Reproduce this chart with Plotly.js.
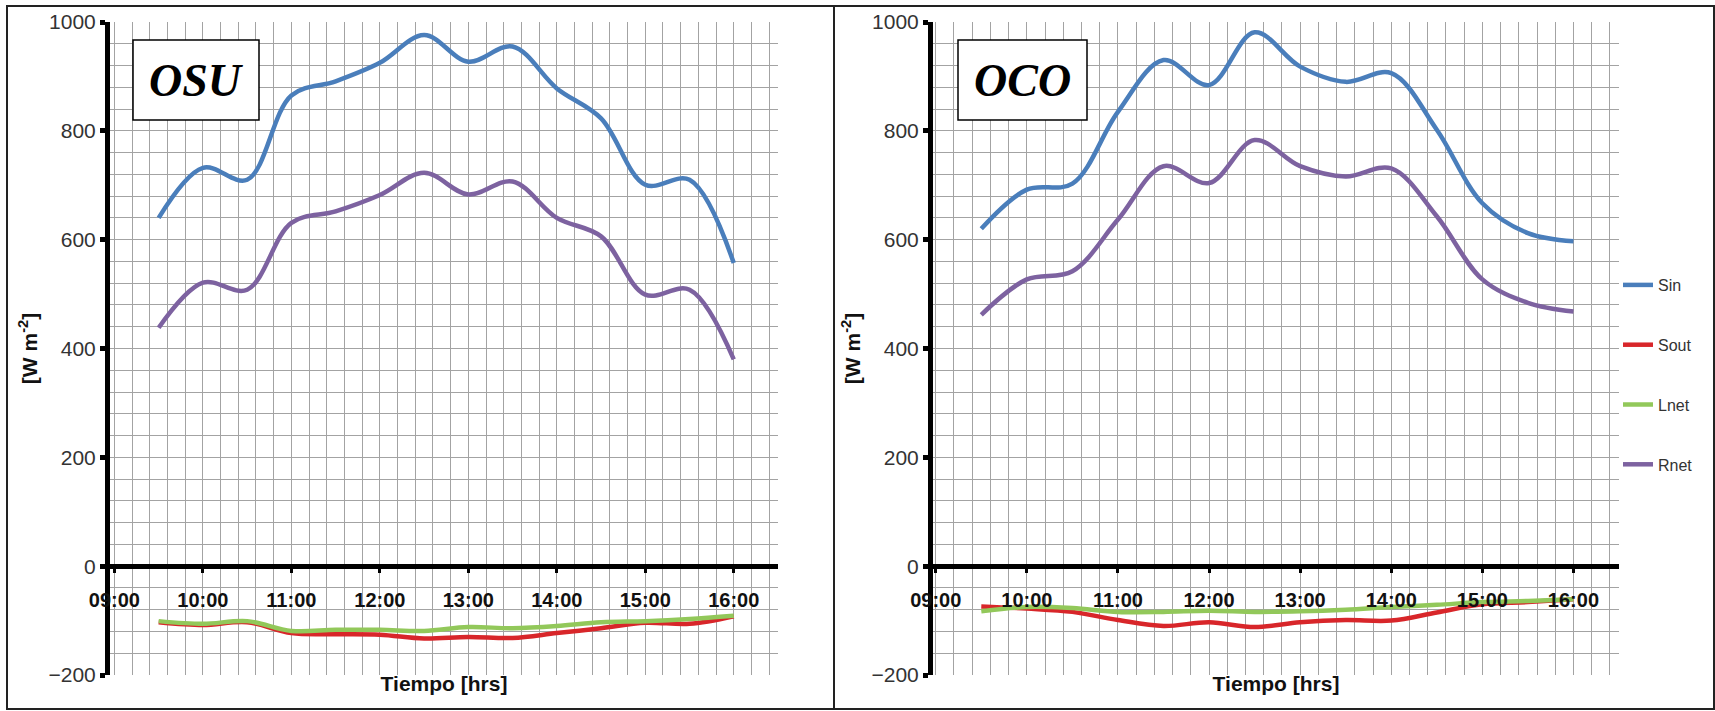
<!DOCTYPE html>
<html>
<head>
<meta charset="utf-8">
<script src="https://cdn.plot.ly/plotly-3.0.1.min.js"></script>
<style>
  html, body { margin: 0; padding: 0; background: #ffffff; }
  #chart { width: 1715px; height: 711px; }
</style>
</head>
<body>
<div id="chart"></div>
<script>
// ---- data ----
const hours = [9.5, 10, 10.5, 11, 11.5, 12, 12.5, 13, 13.5, 14, 14.5, 15, 15.5, 16];
const tickHours = [9, 10, 11, 12, 13, 14, 15, 16];
const tickLabels = ["09:00", "10:00", "11:00", "12:00", "13:00", "14:00", "15:00", "16:00"];
const seriesNames = ["Sin", "Sout", "Lnet", "Rnet"];
const panelNames = ["OSU", "OCO"];

// OSU
const osuSin  = [640, 732, 710, 865, 891, 925, 976, 927, 955, 878, 823, 701, 710, 557];
const osuSout = [-103, -108, -103, -123, -125, -126, -133, -130, -132, -123, -114, -104, -106, -92];
const osuLnet = [-101, -106, -101, -119, -117, -117, -119, -112, -114, -110, -103, -101, -97, -91];
const osuRnet = [438, 521, 508, 631, 652, 682, 723, 683, 707, 640, 606, 499, 508, 380];

// OCO
const ocoSin  = [620, 692, 703, 835, 930, 884, 981, 918, 890, 906, 802, 667, 612, 597];
const ocoSout = [-74, -78, -84, -99, -110, -103, -112, -103, -99, -100, -85, -70, -66, -61];
const ocoLnet = [-83, -75, -77, -84, -84, -82, -84, -83, -80, -75, -71, -66, -64, -61];
const ocoRnet = [462, 527, 542, 637, 735, 704, 783, 735, 716, 731, 643, 527, 484, 468];

// ---- styling ----
const colors = { Sin: "#4A7EBB", Sout: "#D8262A", Lnet: "#92C85A", Rnet: "#7D62A0" };
const W = 1715, H = 711;
const px = v => v / W;
const py = v => 1 - v / H;

const panels = [
  { name: "OSU", x: "x",  y: "y",  data: { Sin: osuSin, Sout: osuSout, Lnet: osuLnet, Rnet: osuRnet }, legend: false },
  { name: "OCO", x: "x2", y: "y2", data: { Sin: ocoSin, Sout: ocoSout, Lnet: ocoLnet, Rnet: ocoRnet }, legend: true }
];

const traces = [];
panels.forEach(p => {
  seriesNames.forEach(s => {
    traces.push({
      type: "scatter",
      mode: "lines",
      name: s,
      legendgroup: s,
      showlegend: p.legend,
      x: hours,
      y: p.data[s],
      xaxis: p.x,
      yaxis: p.y,
      line: { color: colors[s], width: 4.5, shape: "spline", smoothing: 1 },
      hoverinfo: "x+y+name"
    });
  });
});

const font = "Liberation Sans, Arial, sans-serif";
const yDom = [py(675), py(22)];
const zeroPos = yDom[0] + (200 / 1200) * (yDom[1] - yDom[0]);

function xAxis(domain, start) {
  return {
    domain: domain,
    range: [start, 16.5],
    anchor: "free",
    position: zeroPos,
    tickmode: "array",
    tickvals: tickHours,
    ticktext: tickLabels,
    tickfont: { family: font, size: 20, color: "#111", weight: "bold" },
    ticks: "outside",
    ticklen: 4,
    tickwidth: 3,
    tickcolor: "#000",
    ticklabelstandoff: 10,
    showline: true,
    linewidth: 5,
    linecolor: "#000",
    showgrid: true,
    gridcolor: "#a3a3a3",
    gridwidth: 1,
    minor: { tickmode: "linear", tick0: 9, dtick: 0.2, showgrid: true, gridcolor: "#a3a3a3", gridwidth: 1, ticks: "" },
    zeroline: false,
    fixedrange: true,
    automargin: false,
    title: { text: "Tiempo [hrs]", font: { family: font, size: 21, color: "#111", weight: "bold" }, standoff: 66 }
  };
}

function yAxis(xref) {
  return {
    domain: yDom,
    anchor: xref,
    range: [-200, 1000],
    tickmode: "linear",
    tick0: -200,
    dtick: 200,
    tickfont: { family: font, size: 21, color: "#333" },
    ticks: "outside",
    ticklen: 5,
    tickwidth: 5,
    tickcolor: "#000",
    showline: true,
    linewidth: 5,
    linecolor: "#000",
    showgrid: true,
    gridcolor: "#a3a3a3",
    gridwidth: 1,
    minor: { tickmode: "linear", tick0: -200, dtick: 40, showgrid: true, gridcolor: "#a3a3a3", gridwidth: 1, ticks: "" },
    zeroline: false,
    fixedrange: true,
    automargin: false,
    title: { text: "[W m<sup>-2</sup>]", font: { family: font, size: 21, color: "#111", weight: "bold" }, standoff: 7 }
  };
}

const boxes = [
  { x0: 133, x1: 259, cx: 196 },
  { x0: 958, x1: 1087, cx: 1022 }
];

const shapes = [
  { type: "rect", xref: "paper", yref: "paper", x0: px(7), x1: px(834), y0: py(709), y1: py(6), line: { color: "#222", width: 2 }, layer: "below" },
  { type: "rect", xref: "paper", yref: "paper", x0: px(834), x1: px(1714), y0: py(709), y1: py(6), line: { color: "#222", width: 2 }, layer: "below" }
];
boxes.forEach(b => {
  shapes.push({ type: "rect", xref: "paper", yref: "paper", x0: px(b.x0), x1: px(b.x1), y0: py(120), y1: py(40),
                fillcolor: "#ffffff", line: { color: "#000", width: 1.5 }, layer: "above" });
});

const annotations = panelNames.map((n, i) => ({
  text: n, xref: "paper", yref: "paper", x: px(boxes[i].cx), y: py(81),
  xanchor: "center", yanchor: "middle", showarrow: false,
  font: { family: "Liberation Serif, Times New Roman, serif", size: 46, color: "#000", weight: "bold", style: "italic" }
}));

const layout = {
  width: W,
  height: H,
  margin: { l: 0, r: 0, t: 0, b: 0 },
  paper_bgcolor: "#ffffff",
  plot_bgcolor: "#ffffff",
  showlegend: true,
  legend: {
    x: px(1618), y: py(268), xanchor: "left", yanchor: "top",
    font: { family: font, size: 16, color: "#333" },
    traceorder: "grouped",
    tracegroupgap: 36,
    bgcolor: "rgba(0,0,0,0)",
    itemwidth: 30
  },
  xaxis: xAxis([px(110), px(778)], 8.95),
  yaxis: yAxis("x"),
  xaxis2: xAxis([px(933), px(1619)], 8.97),
  yaxis2: yAxis("x2"),
  shapes: shapes,
  annotations: annotations
};

Plotly.newPlot("chart", traces, layout, { displayModeBar: false, staticPlot: true });
</script>
</body>
</html>
